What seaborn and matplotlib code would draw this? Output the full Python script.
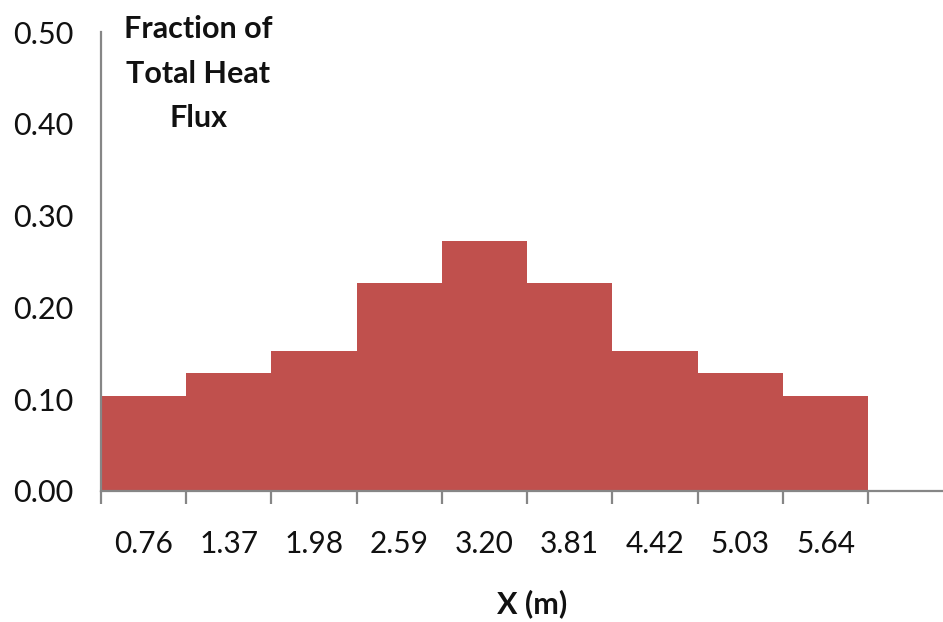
import matplotlib
matplotlib.use("Agg")
import matplotlib.pyplot as plt
import seaborn as sns
import pandas as pd
from matplotlib.ticker import FixedLocator, FormatStrFormatter

# Segment positions along the wall and their share of the total heat flux
x_labels = ["0.76", "1.37", "1.98", "2.59", "3.20", "3.81", "4.42", "5.03", "5.64"]
fractions = [0.103, 0.128, 0.152, 0.227, 0.272, 0.227, 0.152, 0.128, 0.103]

df = pd.DataFrame({"x": x_labels, "fraction": fractions})

sns.set_theme(style="white")
plt.rcParams["font.family"] = ["Lato", "DejaVu Sans"]

W, H = 943, 622
fig = plt.figure(figsize=(W / 100, H / 100), dpi=100)
ax_left, ax_right, ax_top, ax_bottom = 101, 943, 32, 491
ax = fig.add_axes([ax_left / W, 1 - ax_bottom / H,
                   (ax_right - ax_left) / W, (ax_bottom - ax_top) / H])

sns.barplot(data=df, x="x", y="fraction", color="#C0504D", saturation=1,
            width=1.0, edgecolor="none", linewidth=0, ax=ax)

ax.set_xlim(-0.5, 9.38)
ax.set_ylim(0, 0.5)
ax.set_yticks([0, 0.1, 0.2, 0.3, 0.4, 0.5])
ax.yaxis.set_major_formatter(FormatStrFormatter("%.2f"))

grey = "#868686"
for side in ("top", "right"):
    ax.spines[side].set_visible(False)
for side in ("left", "bottom"):
    ax.spines[side].set_color(grey)
    ax.spines[side].set_linewidth(1.6)

# Category boundaries carry the outward tick marks; labels sit under bar centres
ax.xaxis.set_minor_locator(FixedLocator([i - 0.5 for i in range(len(x_labels) + 1)]))
ax.tick_params(axis="x", which="minor", bottom=True, length=9, width=1.6,
               color=grey, direction="out")
ax.tick_params(axis="x", which="major", bottom=False, length=0, pad=28,
               labelsize=21.5, labelcolor="#111111")
ax.tick_params(axis="y", which="major", left=False, length=0, pad=20,
               labelsize=22, labelcolor="#111111")

ax.set_xlabel("")
ax.set_ylabel("")
ax.grid(False)

fig.text(198 / W, 1 - 15 / H, "Fraction of\nTotal Heat\nFlux", ha="center",
         va="top", multialignment="center", fontsize=22, fontweight="bold",
         linespacing=1.72, color="#111111")
fig.text(532 / W, 1 - 604 / H, "X (m)", ha="center", va="center",
         fontsize=22, fontweight="bold", color="#111111")

fig.savefig("out.png", dpi=100)
